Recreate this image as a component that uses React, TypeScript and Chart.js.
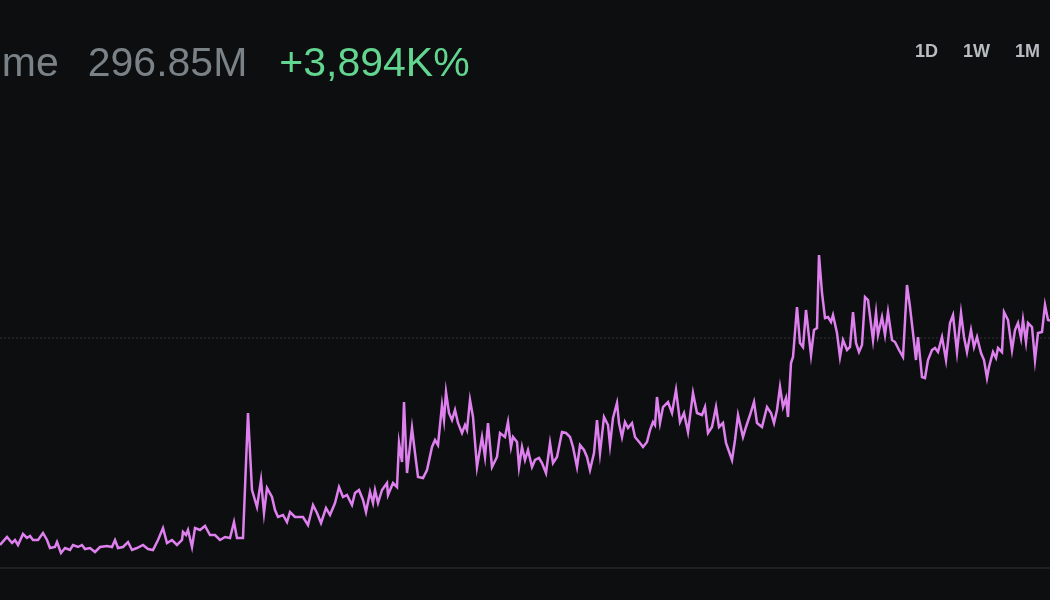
import React, { useEffect, useRef } from "react";
import { Chart, registerables } from "chart.js";

Chart.register(...registerables);

// Time positions (sample index along the period) and daily volume in millions
const timeIndex: number[] = [
  0, 7, 12, 15, 18, 23, 27, 30, 33, 38, 43, 47, 50, 55, 57, 61, 65, 70, 73, 78,
  82, 85, 90, 95, 100, 107, 112, 115, 118, 123, 128, 132, 137, 143, 148, 153, 158, 163, 167, 172,
  177, 182, 183, 186, 188, 192, 195, 200, 205, 210, 215, 220, 225, 230, 234, 237, 243,
  248, 252, 257, 261, 264, 267, 272, 275, 278, 283, 287, 290, 295, 303, 308, 313, 317, 321, 326,
  330, 335, 339, 343, 347, 352, 355, 359, 363, 366, 370, 373, 375, 378, 382, 387, 388, 393, 397,
  399, 402, 404, 407, 412, 415, 418, 423, 427, 432, 435, 438,
  442, 444, 446, 449, 452, 455, 458, 462, 465, 467, 470, 473, 477, 482, 485, 488, 492, 497, 500,
  505, 508, 511, 513, 517, 519, 522, 525, 528, 532, 535, 539, 542, 546, 550, 553, 557, 562, 566,
  570, 573, 577, 580, 584, 587, 590, 594, 597, 600, 604, 608, 610, 613, 617, 619, 622, 625, 628,
  632, 635,
  640, 643, 647, 650, 653, 655, 657, 660, 663, 668, 672, 676, 680, 684, 688, 693, 697, 702, 705,
  708, 712, 716, 719, 723, 726, 732, 735, 738, 743, 746, 750, 754, 757, 762, 767, 771, 774, 777,
  780, 783, 786, 788, 791, 793, 797, 800, 803, 806, 811, 814, 817, 819, 822, 825, 828, 831, 833, 837,
  840, 843, 847, 850, 853, 856, 859, 862, 865, 868, 873, 876, 878, 882, 885, 888, 892, 895, 899,
  903, 907, 910, 913, 916, 918, 922, 925, 928, 932, 935, 938, 942, 946, 950, 953, 957, 961, 964,
  967, 971, 974, 977, 981, 984, 987, 989, 993, 996, 998, 1002, 1004, 1008, 1012, 1015, 1018, 1021,
  1023, 1026, 1028, 1032, 1035, 1038, 1042, 1045, 1048, 1050,
];

const volumeM: number[] = [
  27.6, 37.2, 30, 33.6, 27.6, 40.8, 36, 38.4, 33.6, 33.6, 42, 33.6, 24, 25.2, 31.2, 18, 24, 21.6, 27.6, 25.2,
  27.6, 22.8, 24, 19.2, 25.2, 26.4, 25.2, 33.6, 24, 25.2, 31.2, 21.6, 24, 27.6, 22.8, 21.6, 33.6, 48, 30, 33.6,
  27.6, 33.6, 43.2, 39.6, 45.6, 25.2, 48, 45.6, 50.4, 39.6, 39.6, 33.6, 37.2, 36, 55.2, 36, 36,
  186, 93.6, 73.2, 105.6, 66, 96, 85.2, 69.6, 61.2, 63.6, 55.2, 67.2, 61.2, 61.2, 51.6, 75.6, 66, 54, 72,
  63.6, 78, 97.2, 85.2, 87.6, 75.6, 90, 93.6, 81.6, 67.2, 91.2, 78, 93.6, 78, 93.6, 102, 87.6, 102, 97.2,
  150, 127.2, 199.2, 114, 168, 138, 109.2, 108, 117.6, 145.2, 153.6, 147.6,
  195.6, 177.6, 211.2, 186, 177.6, 189.6, 174, 162, 171.6, 165.6, 201.6, 181.2, 121.2, 157.2, 133.2, 174, 121.2, 133.2, 162,
  157.2, 175.2, 145.2, 157.2, 151.2, 121.2, 145.2, 129.6, 141.6, 121.2, 129.6, 132, 126, 114, 150, 126, 133.2, 163.2, 162,
  157.2, 145.2, 121.2, 147.6, 141.6, 133.2, 117.6, 138, 177.6, 138, 181.2, 171.6, 147.6, 180, 198, 174, 157.2, 175.2, 168,
  174, 157.2,
  150, 145.2, 151.2, 165.6, 175.2, 171.6, 205.2, 174, 193.2, 199.2, 186, 213.6, 175.2, 186, 163.2, 210, 186, 183.6, 193.2,
  162, 169.2, 193.2, 169.2, 174, 150, 129.6, 153.6, 183.6, 157.2, 169.2, 183.6, 199.2, 174, 169.2, 193.2, 186, 174, 189.6,
  217.2, 193.2, 204, 181.2, 246, 253.2, 313.2, 270, 265.2, 309.6, 255.6, 285.6, 288, 375.6, 330, 300, 301.2, 295.2, 303.6, 282,
  253.2, 273.6, 261.6, 265.2, 307.2, 270, 259.2, 267.6, 325.2, 321.6, 273.6, 306, 279.6, 301.2, 279.6, 307.2, 273.6, 271.2, 261.6,
  253.2, 339.6, 313.2, 282, 249.6, 277.2, 229.2, 228, 249.6, 261.6, 264, 259.2, 277.2, 249.6, 294, 303.6, 259.2, 306, 277.2,
  259.2, 285.6, 265.2, 277.2, 258, 249.6, 228, 241.2, 259.2, 252, 264, 259.2, 307.2, 297.6, 261.6, 285.6, 294, 276,
  297.6, 271.2, 294, 289.2, 249.6, 282, 283.2, 315.6, 297.6, 296.85,
];

// Dotted reference level (millions)
const referenceLevel = 276;

const headerLabel = "Volume";
const headerValue = "296.85M";
const headerChange = "+3,894K%";
const rangeLabels = ["1D", "1W", "1M"];

export default function App() {
  const canvasRef = useRef<HTMLCanvasElement | null>(null);

  useEffect(() => {
    if (!canvasRef.current) return;
    const points = timeIndex.map((t, i) => ({ x: t, y: volumeM[i] }));
    const xMin = timeIndex[0];
    const xMax = timeIndex[timeIndex.length - 1];
    const chart = new Chart(canvasRef.current, {
      type: "line",
      data: {
        datasets: [
          {
            label: "Volume",
            data: points,
            borderColor: "#df80ef",
            borderWidth: 2.5,
            pointRadius: 0,
            tension: 0,
            fill: false,
            order: 1,
          },
          {
            label: "Reference",
            data: [
              { x: xMin, y: referenceLevel },
              { x: xMax, y: referenceLevel },
            ],
            borderColor: "rgba(255,255,255,0.16)",
            borderWidth: 1,
            borderDash: [2, 2],
            pointRadius: 0,
            fill: false,
            order: 2,
          },
        ],
      },
      options: {
        animation: false,
        responsive: false,
        maintainAspectRatio: false,
        layout: { padding: { top: 88, bottom: 24, left: 0, right: 0 } },
        plugins: {
          legend: { display: false },
          tooltip: { enabled: false },
          title: { display: false },
        },
        scales: {
          x: {
            type: "linear",
            min: xMin,
            max: xMax,
            display: true,
            ticks: { display: false },
            grid: { display: false },
            border: { display: true, color: "#1f2122", width: 2 },
          },
          y: {
            min: 0,
            max: 576,
            display: false,
          },
        },
      },
    });
    return () => chart.destroy();
  }, []);

  const rangeLefts = [915, 963, 1015];

  return (
    <div
      style={{
        position: "fixed",
        left: 0,
        top: 0,
        width: 1050,
        height: 600,
        background: "#0d0e0f",
        overflow: "hidden",
        fontFamily: "'Liberation Sans', Arial, sans-serif",
      }}
    >
      <canvas
        ref={canvasRef}
        width={1050}
        height={600}
        style={{ position: "absolute", left: 0, top: 0, width: 1050, height: 600 }}
      />
      <div
        style={{
          position: "absolute",
          left: -78,
          top: 38,
          fontSize: 41,
          lineHeight: "48px",
          whiteSpace: "nowrap",
          color: "#7a8288",
        }}
      >
        <span>{headerLabel}</span>
        <span style={{ marginLeft: 29 }}>{headerValue}</span>
        <span style={{ marginLeft: 32, color: "#62d690" }}>{headerChange}</span>
      </div>
      {rangeLabels.map((r, i) => (
        <div
          key={r}
          style={{
            position: "absolute",
            left: rangeLefts[i],
            top: 41,
            fontSize: 18,
            fontWeight: 700,
            color: "#b7bcc1",
            lineHeight: "20px",
          }}
        >
          {r}
        </div>
      ))}
    </div>
  );
}
